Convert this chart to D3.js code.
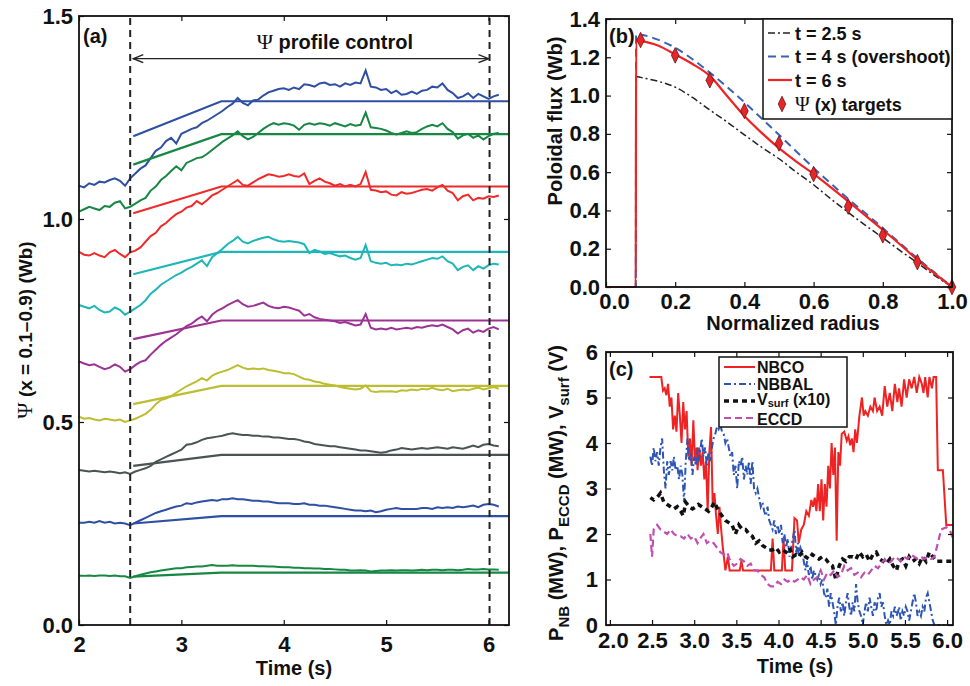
<!DOCTYPE html>
<html>
<head>
<meta charset="utf-8">
<script src="https://cdn.jsdelivr.net/npm/d3@7"></script>
<style>
  body { margin: 0; background: #fff; }
  svg text { font-family: "Liberation Sans", Arial, sans-serif; font-weight: bold; fill: #111; }
  .psi { font-family: "Liberation Serif", "DejaVu Serif", serif; font-weight: normal; }
</style>
</head>
<body>
<div id="vis"></div>
<script>
// ---------- datos panel (a) ----------
const timeA = [2.00,2.05,2.10,2.15,2.20,2.25,2.30,2.35,2.40,2.45,2.50,2.55,2.60,2.65,2.70,2.75,2.80,2.85,2.90,2.95,
  3.00,3.05,3.10,3.15,3.20,3.25,3.30,3.35,3.40,3.45,3.50,3.55,3.60,3.65,3.70,3.75,3.80,3.85,3.90,3.95,
  4.00,4.05,4.10,4.15,4.20,4.25,4.30,4.35,4.40,4.45,4.50,4.55,4.60,4.65,4.70,4.75,4.80,4.85,4.90,4.95,
  5.00,5.05,5.10,5.15,5.20,5.25,5.30,5.35,5.40,5.45,5.50,5.55,5.60,5.65,5.70,5.75,5.80,5.85,5.90,5.95,
  6.00,6.05,6.10];

const psi01 = [1.082,1.078,1.088,1.084,1.092,1.090,1.096,1.100,1.094,1.082,1.100,1.112,1.124,1.132,1.150,1.168,1.176,1.192,1.200,1.186,
  1.210,1.216,1.222,1.226,1.236,1.242,1.250,1.258,1.266,1.276,1.284,1.298,1.286,1.280,1.292,1.294,1.304,1.312,1.316,1.320,
  1.322,1.318,1.324,1.320,1.332,1.330,1.326,1.334,1.336,1.330,1.332,1.326,1.334,1.330,1.336,1.334,1.366,1.326,1.324,1.318,
  1.320,1.310,1.316,1.306,1.308,1.314,1.308,1.316,1.318,1.326,1.324,1.334,1.318,1.310,1.298,1.302,1.310,1.298,1.308,1.302,
  1.296,1.302,1.306];
const psi02 = [1.018,1.024,1.030,1.026,1.022,1.032,1.030,1.040,1.044,1.026,1.030,1.038,1.046,1.052,1.070,1.080,1.096,1.106,1.118,1.130,
  1.120,1.138,1.144,1.150,1.152,1.160,1.170,1.180,1.190,1.198,1.206,1.216,1.204,1.196,1.202,1.212,1.222,1.230,1.236,1.232,
  1.236,1.234,1.230,1.220,1.232,1.236,1.232,1.236,1.234,1.230,1.236,1.232,1.228,1.234,1.230,1.232,1.262,1.226,1.224,1.222,
  1.218,1.212,1.208,1.212,1.216,1.212,1.214,1.222,1.228,1.232,1.228,1.236,1.222,1.214,1.198,1.206,1.210,1.200,1.206,1.196,
  1.204,1.210,1.212];
const psi03 = [0.919,0.912,0.910,0.916,0.910,0.906,0.918,0.924,0.914,0.906,0.918,0.922,0.930,0.944,0.958,0.966,0.982,0.990,1.002,1.012,
  1.018,1.028,1.032,1.044,1.036,1.046,1.058,1.064,1.072,1.080,1.088,1.096,1.084,1.082,1.090,1.098,1.104,1.110,1.108,1.104,
  1.106,1.110,1.106,1.104,1.112,1.086,1.094,1.100,1.092,1.088,1.082,1.086,1.080,1.084,1.080,1.086,1.116,1.072,1.070,1.066,
  1.068,1.060,1.058,1.066,1.062,1.064,1.068,1.072,1.074,1.070,1.078,1.084,1.070,1.064,1.046,1.056,1.060,1.046,1.052,1.050,
  1.056,1.054,1.058];
const psi04 = [0.788,0.784,0.780,0.786,0.776,0.770,0.772,0.782,0.776,0.764,0.772,0.780,0.788,0.800,0.816,0.826,0.838,0.846,0.854,0.862,
  0.868,0.876,0.882,0.890,0.898,0.884,0.906,0.916,0.926,0.938,0.946,0.956,0.944,0.940,0.946,0.950,0.954,0.956,0.950,0.946,
  0.944,0.946,0.944,0.942,0.938,0.916,0.924,0.920,0.914,0.916,0.912,0.908,0.910,0.904,0.900,0.904,0.936,0.896,0.892,0.890,
  0.892,0.886,0.888,0.886,0.890,0.888,0.892,0.896,0.900,0.904,0.902,0.908,0.896,0.890,0.874,0.882,0.886,0.874,0.884,0.878,
  0.886,0.890,0.888];
const psi05 = [0.649,0.644,0.640,0.642,0.636,0.630,0.634,0.642,0.636,0.624,0.630,0.640,0.648,0.652,0.666,0.678,0.690,0.700,0.708,0.716,
  0.726,0.736,0.742,0.752,0.760,0.748,0.764,0.774,0.780,0.788,0.794,0.800,0.790,0.784,0.786,0.790,0.794,0.786,0.782,0.780,
  0.784,0.782,0.778,0.774,0.762,0.766,0.758,0.754,0.752,0.750,0.748,0.744,0.746,0.742,0.738,0.740,0.766,0.732,0.728,0.730,
  0.728,0.732,0.728,0.730,0.732,0.730,0.734,0.732,0.736,0.738,0.736,0.740,0.734,0.728,0.718,0.726,0.730,0.720,0.726,0.722,
  0.730,0.734,0.728];
const psi06 = [0.513,0.508,0.510,0.506,0.504,0.508,0.506,0.504,0.506,0.500,0.504,0.508,0.514,0.520,0.530,0.544,0.554,0.558,0.564,0.572,
  0.580,0.588,0.594,0.600,0.608,0.602,0.614,0.620,0.624,0.628,0.634,0.640,0.634,0.630,0.632,0.630,0.632,0.628,0.626,0.624,
  0.620,0.620,0.618,0.612,0.606,0.604,0.600,0.598,0.594,0.592,0.590,0.586,0.584,0.582,0.580,0.582,0.590,0.576,0.574,0.576,
  0.575,0.576,0.574,0.578,0.577,0.580,0.578,0.582,0.580,0.584,0.580,0.578,0.582,0.576,0.578,0.580,0.578,0.582,0.585,0.580,
  0.583,0.586,0.582];
const psi07 = [0.382,0.380,0.378,0.380,0.378,0.376,0.378,0.376,0.374,0.376,0.372,0.378,0.382,0.386,0.392,0.402,0.408,0.414,0.420,0.426,
  0.432,0.444,0.446,0.450,0.456,0.460,0.462,0.464,0.466,0.470,0.472,0.470,0.468,0.468,0.466,0.466,0.464,0.464,0.462,0.462,
  0.460,0.458,0.458,0.456,0.452,0.450,0.446,0.444,0.442,0.440,0.440,0.438,0.436,0.434,0.432,0.430,0.430,0.428,0.426,0.424,
  0.426,0.430,0.432,0.436,0.434,0.432,0.434,0.436,0.434,0.436,0.438,0.436,0.434,0.438,0.436,0.434,0.438,0.442,0.438,0.444,
  0.446,0.442,0.440];
const psi08 = [0.252,0.252,0.254,0.252,0.256,0.252,0.254,0.250,0.252,0.250,0.246,0.252,0.258,0.264,0.270,0.276,0.280,0.284,0.288,0.292,
  0.294,0.300,0.298,0.302,0.304,0.306,0.308,0.306,0.310,0.310,0.312,0.310,0.310,0.308,0.306,0.306,0.304,0.304,0.302,0.300,
  0.300,0.300,0.298,0.298,0.300,0.296,0.296,0.294,0.294,0.292,0.290,0.288,0.286,0.284,0.282,0.282,0.280,0.282,0.278,0.280,
  0.284,0.286,0.288,0.286,0.286,0.286,0.286,0.288,0.288,0.286,0.290,0.288,0.290,0.288,0.292,0.290,0.292,0.294,0.290,0.296,
  0.298,0.296,0.292];
const psi09 = [0.121,0.121,0.122,0.121,0.122,0.122,0.121,0.122,0.120,0.120,0.116,0.120,0.124,0.127,0.130,0.132,0.134,0.136,0.138,0.140,
  0.140,0.142,0.143,0.144,0.144,0.146,0.148,0.146,0.146,0.146,0.147,0.146,0.146,0.146,0.146,0.145,0.145,0.144,0.144,0.143,
  0.142,0.142,0.141,0.141,0.140,0.140,0.139,0.139,0.138,0.138,0.137,0.136,0.136,0.134,0.134,0.135,0.134,0.132,0.133,0.134,
  0.134,0.135,0.134,0.135,0.135,0.134,0.135,0.136,0.135,0.136,0.136,0.135,0.136,0.136,0.135,0.136,0.138,0.137,0.137,0.138,
  0.137,0.137,0.136];
const psiTraces = [psi01, psi02, psi03, psi04, psi05, psi06, psi07, psi08, psi09];

// objetivos: rampa y meseta
const targetTimes = [2.53, 3.39, 6.2];
const targetStart = [1.204, 1.134, 1.014, 0.864, 0.704, 0.544, 0.392, 0.250, 0.119];
const targetFlat = [1.290, 1.209, 1.080, 0.919, 0.750, 0.589, 0.419, 0.268, 0.129];
const traceColors = ["#2e4fa3", "#178744", "#ee2b2b", "#1fb6b8", "#9d3295", "#bdbd32", "#4a5452", "#2e4fa3", "#178744"];

// ---------- datos panel (b) ----------
const radius = [0, 0.086, 0.087, 0.1, 0.15, 0.2, 0.25, 0.3, 0.35, 0.4, 0.45, 0.5, 0.55, 0.6, 0.65, 0.7, 0.75, 0.8, 0.85, 0.9, 0.95, 1.0];
const flux25 = [0, 0, 1.100, 1.095, 1.075, 1.044, 0.990, 0.925, 0.862, 0.795, 0.730, 0.670, 0.600, 0.534, 0.460, 0.390, 0.322, 0.257, 0.190, 0.126, 0.060, 0];
const flux4 = [0, 0, 1.320, 1.318, 1.292, 1.250, 1.190, 1.120, 1.045, 0.965, 0.880, 0.795, 0.708, 0.622, 0.540, 0.460, 0.385, 0.308, 0.228, 0.150, 0.075, 0];
const flux6 = [0, 0, 1.290, 1.286, 1.262, 1.215, 1.165, 1.103, 0.998, 0.893, 0.805, 0.725, 0.655, 0.591, 0.520, 0.447, 0.373, 0.299, 0.222, 0.142, 0.070, 0];
const targetRadius = [0.1, 0.2, 0.3, 0.4, 0.5, 0.6, 0.7, 0.8, 0.9, 1.0];
const targetFlux = [1.29, 1.21, 1.08, 0.92, 0.75, 0.59, 0.42, 0.27, 0.13, 0.0];

// ---------- datos panel (c) ----------
const nbcoT = [2.47,2.61,2.63,2.65,2.67,2.69,2.71,2.73,2.75,2.77,2.79,2.81,2.83,2.85,2.87,2.89,2.91,2.93,2.95,2.97,
  2.99,3.01,3.03,3.04,3.06,3.08,3.10,3.12,3.14,3.16,3.18,3.20,3.22,3.24,3.26,3.28,3.30,3.32,3.34,3.37,
  3.40,3.42,3.54,3.56,3.58,3.91,3.93,3.95,4.04,4.06,4.08,4.16,4.19,4.22,4.24,4.27,4.30,4.33,4.36,4.39,
  4.41,4.43,4.45,4.47,4.49,4.51,4.53,4.55,4.57,4.59,4.61,4.63,4.65,4.67,4.69,4.71,4.73,4.75,4.78,4.81,
  4.83,4.85,4.87,4.89,4.91,4.93,4.96,4.99,5.01,5.03,5.06,5.09,5.12,5.14,5.17,5.20,5.23,5.26,5.29,5.32,
  5.35,5.38,5.41,5.43,5.46,5.49,5.52,5.55,5.58,5.61,5.64,5.67,5.70,5.72,5.74,5.77,5.79,5.82,5.84,5.87,
  5.89,5.95,5.99,6.07];
const nbcoV = [5.45,5.45,5.15,5.20,5.05,5.30,4.80,5.00,4.30,4.60,4.25,5.10,4.60,4.00,4.90,4.30,4.70,3.70,4.10,3.50,
  4.50,3.60,3.90,3.40,3.90,3.50,3.80,3.20,3.60,2.50,3.80,4.35,2.60,2.90,2.40,2.00,2.60,2.10,1.70,1.20,
  1.50,1.20,1.20,1.40,1.20,1.20,1.90,1.20,1.20,1.90,1.20,1.20,2.35,2.30,1.80,2.10,2.20,2.50,2.40,2.75,
  2.60,2.80,2.50,3.10,2.50,3.20,2.30,3.10,2.60,3.50,3.00,4.00,3.30,3.90,1.85,3.80,3.50,4.20,4.25,4.05,
  4.15,3.95,4.10,3.80,4.30,4.00,4.60,5.00,4.60,4.70,4.60,4.80,4.70,5.00,4.70,4.80,4.60,5.25,4.80,5.10,
  4.70,5.30,4.90,5.20,4.80,5.40,5.00,5.40,5.20,5.45,5.10,5.45,5.30,5.10,5.45,5.00,5.45,5.20,5.45,5.45,
  3.40,3.40,2.20,2.20];

const nbbalT = [2.48,2.50,2.52,2.54,2.56,2.58,2.60,2.62,2.64,2.66,2.68,2.70,2.72,2.74,2.76,2.78,2.80,2.82,2.84,2.86,
  2.88,2.90,2.92,2.94,2.96,2.98,3.00,3.02,3.04,3.05,3.07,3.09,3.11,3.13,3.15,3.17,3.19,3.21,3.23,3.25,
  3.27,3.29,3.31,3.33,3.35,3.37,3.39,3.41,3.43,3.45,3.47,3.49,3.51,3.53,3.55,3.57,3.59,3.61,3.63,3.65,
  3.67,3.69,3.71,3.73,3.75,3.77,3.79,3.81,3.83,3.85,3.87,3.89,3.91,3.93,3.95,3.97,3.99,4.01,4.03,4.05,
  4.07,4.09,4.11,4.13,4.15,4.17,4.19,4.21,4.23,4.24,4.26,4.28,4.30,4.32,4.34,4.36,4.38,4.40,4.42,4.44,
  4.46,4.48,4.50,4.52,4.54,4.56,4.58,4.60,4.62,4.64,4.66,4.68,4.70,4.72,4.74,4.76,4.78,4.80,4.82,4.84,
  4.86,4.88,4.90,4.92,4.94,4.96,4.98,5.00,5.02,5.04,5.06,5.08,5.10,5.12,5.14,5.16,5.18,5.20,5.22,5.24,
  5.26,5.28,5.30,5.32,5.34,5.36,5.38,5.40,5.42,5.43,5.45,5.47,5.49,5.51,5.53,5.55,5.57,5.59,5.61,5.63,
  5.65,5.67,5.69,5.71,5.73,5.75,5.77,5.79,5.81,5.83,5.85,5.87,5.97];
const nbbalV = [3.7,3.5,3.9,3.6,3.8,3.5,3.9,4.1,3.4,3.0,3.6,3.3,3.6,3.4,3.7,3.4,3.5,3.2,3.5,3.3,
  2.7,3.6,4.1,3.6,3.8,3.3,3.7,3.5,3.9,3.6,3.8,4.1,3.7,3.9,3.5,3.8,3.6,3.9,4.1,4.2,
  4.35,4.3,4.4,4.25,4.2,4.0,4.1,3.9,3.7,3.8,3.3,3.5,3.0,3.6,3.5,3.7,3.2,3.5,3.3,3.6,
  3.1,3.6,3.0,2.9,3.0,2.8,2.6,2.7,2.5,2.4,2.6,2.3,2.2,2.1,2.3,2.0,2.2,2.0,2.2,1.8,
  2.0,1.7,1.9,1.5,1.7,1.9,2.1,1.6,1.8,1.5,1.7,1.6,1.4,1.2,1.4,1.1,1.3,1.0,1.2,1.1,
  1.0,1.1,0.9,1.0,0.7,0.6,0.8,0.4,0.7,0.5,0.3,0.0,0.4,0.6,0.3,0.5,0.2,0.5,0.7,0.4,
  0.2,0.5,0.3,0.9,0.5,0.3,0.2,0.0,0.3,0.5,0.3,0.6,0.4,0.2,0.5,0.3,0.6,0.7,0.4,0.5,
  0.2,0.0,0.1,0.0,0.3,0.2,0.4,0.2,0.3,0.4,0.1,0.3,0.2,0.4,0.3,0.1,0.3,0.5,0.7,0.5,
  0.2,0.3,0.2,0.4,0.3,0.6,0.7,0.5,0.3,0.1,0.0,0.0,0.0];

const vsurfT = [2.48,2.52,2.56,2.60,2.64,2.68,2.72,2.76,2.80,2.84,2.87,2.90,2.94,2.98,3.02,3.05,3.09,3.13,3.17,3.21,
  3.24,3.29,3.33,3.37,3.41,3.45,3.49,3.53,3.57,3.61,3.65,3.69,3.73,3.77,3.81,3.85,3.89,3.93,3.97,4.01,
  4.05,4.09,4.13,4.17,4.21,4.24,4.28,4.32,4.36,4.40,4.44,4.48,4.52,4.56,4.60,4.64,4.68,4.72,4.76,4.80,
  4.84,4.88,4.92,4.96,5.00,5.04,5.08,5.12,5.16,5.20,5.24,5.28,5.32,5.36,5.40,5.43,5.47,5.51,5.55,5.59,
  5.63,5.67,5.71,5.75,5.79,5.83,5.87,5.93,6.07];
const vsurfV = [2.80,2.75,2.80,2.90,2.70,2.65,2.60,2.55,2.60,2.50,2.40,2.70,2.60,2.55,2.60,2.65,2.60,2.55,2.50,2.60,
  2.70,2.50,2.40,2.30,2.25,2.20,2.00,2.20,2.10,2.10,2.00,1.95,1.80,1.85,1.75,1.70,1.65,1.65,1.70,1.60,
  1.65,1.60,1.70,1.50,1.55,1.50,1.60,1.50,1.45,1.55,1.50,1.45,1.50,1.45,1.35,1.30,1.00,1.30,1.45,1.40,
  1.50,1.50,1.45,1.60,1.50,1.55,1.40,1.55,1.60,1.45,1.40,1.35,1.45,1.30,1.20,1.40,1.45,1.30,1.50,1.40,
  1.45,1.35,1.50,1.40,1.60,1.50,1.40,1.40,1.40];

const ecT = [2.48,2.50,2.52,2.56,2.60,2.64,2.68,2.72,2.76,2.80,2.84,2.88,2.92,2.96,3.00,3.04,3.07,3.11,3.15,3.19,
  3.23,3.27,3.31,3.35,3.39,3.43,3.47,3.51,3.55,3.59,3.63,3.67,3.71,3.75,3.79,3.83,3.87,3.91,3.95,3.99,
  4.03,4.07,4.11,4.15,4.19,4.23,4.26,4.30,4.34,4.38,4.42,4.46,4.50,4.54,4.58,4.62,4.66,4.70,4.74,4.78,
  4.82,4.86,4.90,4.94,4.98,5.02,5.06,5.10,5.14,5.18,5.22,5.26,5.30,5.34,5.38,5.42,5.45,5.49,5.53,5.57,
  5.61,5.65,5.69,5.73,5.77,5.81,5.85,5.89,5.93,5.99,6.03,6.07];
const ecV = [2.00,1.50,2.10,2.20,2.10,2.05,2.00,2.10,2.00,1.95,1.95,1.90,2.00,1.90,1.95,1.80,1.90,2.00,1.80,1.85,
  1.80,1.70,1.60,1.55,1.60,1.40,1.30,1.35,1.45,1.40,1.30,1.35,1.20,1.20,1.10,1.05,0.90,0.85,0.85,0.95,
  0.90,1.00,0.95,1.00,0.95,1.00,1.05,1.00,1.10,0.90,1.00,1.05,1.20,1.00,1.15,1.10,1.20,1.05,1.10,1.30,
  1.20,1.25,1.10,1.15,1.05,1.15,1.10,1.20,1.30,1.25,1.35,1.45,1.35,1.40,1.50,1.45,1.40,1.50,1.45,1.55,
  1.50,1.45,1.50,1.45,1.50,1.45,1.50,1.80,2.10,2.15,2.10,1.90];

// ---------- SVG ----------
const WIDTH = 970, HEIGHT = 686;
const SVG = d3.select("#vis").append("svg").attr("width", WIDTH).attr("height", HEIGHT);

// Caja con ticks hacia adentro en los cuatro lados
function frame(x, y, xTicks, yTicks, xFmt, yFmt, xPad, yPad) {
  const [x0, x1] = x.range();
  const [y0, y1] = y.range();
  const g = SVG.append("g");
  const fix = sel => {
    sel.select(".domain").remove();
    sel.selectAll("line").attr("stroke", "#111").attr("stroke-width", 1.2);
    sel.selectAll("text").attr("font-size", 22);
  };
  const bx = g.append("g").attr("transform", `translate(0,${y0})`)
    .call(d3.axisBottom(x).tickValues(xTicks).tickFormat(xFmt).tickSize(-5).tickPadding(xPad)).call(fix);
  g.append("g").attr("transform", `translate(0,${y1})`)
    .call(d3.axisTop(x).tickValues(xTicks).tickFormat("").tickSize(-5)).call(fix);
  g.append("g").attr("transform", `translate(${x0},0)`)
    .call(d3.axisLeft(y).tickValues(yTicks).tickFormat(yFmt).tickSize(-5).tickPadding(yPad)).call(fix);
  g.append("g").attr("transform", `translate(${x1},0)`)
    .call(d3.axisRight(y).tickValues(yTicks).tickFormat("").tickSize(-5)).call(fix);
  g.append("rect").attr("x", x0).attr("y", y1).attr("width", x1 - x0).attr("height", y0 - y1)
    .attr("fill", "none").attr("stroke", "#111").attr("stroke-width", 1.8);
  return bx;
}

// ===== Panel (a) =====
const xA = d3.scaleLinear().domain([2, 6.2]).range([79, 509]);
const yA = d3.scaleLinear().domain([0, 1.5]).range([625, 16]);

const lineA = d3.line().x(d => xA(d[0])).y(d => yA(d[1]));
const gA = SVG.append("g");

psiTraces.forEach((vals, k) => {
  gA.append("path")
    .datum(timeA.map((t, i) => [t, vals[i]]))
    .attr("d", lineA).attr("fill", "none")
    .attr("stroke", traceColors[k]).attr("stroke-width", 2);
  const tgt = [[targetTimes[0], targetStart[k]], [targetTimes[1], targetFlat[k]], [targetTimes[2], targetFlat[k]]];
  gA.append("path").datum(tgt).attr("d", lineA).attr("fill", "none")
    .attr("stroke", traceColors[k]).attr("stroke-width", 2.2);
});

// líneas verticales de control
[2.5, 6.01].forEach(t => {
  gA.append("line").attr("x1", xA(t)).attr("x2", xA(t)).attr("y1", yA(0)).attr("y2", yA(1.5))
    .attr("stroke", "#222").attr("stroke-width", 2).attr("stroke-dasharray", "7,5");
});

// flecha
const arrowY = yA(1.395);
gA.append("line").attr("x1", xA(2.53)).attr("x2", xA(6.0)).attr("y1", arrowY).attr("y2", arrowY)
  .attr("stroke", "#222").attr("stroke-width", 1.2);
gA.append("path").attr("d", `M${xA(2.53) + 10},${arrowY - 4} L${xA(2.53)},${arrowY} L${xA(2.53) + 10},${arrowY + 4}`)
  .attr("fill", "none").attr("stroke", "#222").attr("stroke-width", 1.4);
gA.append("path").attr("d", `M${xA(6.0) - 10},${arrowY - 4} L${xA(6.0)},${arrowY} L${xA(6.0) - 10},${arrowY + 4}`)
  .attr("fill", "none").attr("stroke", "#222").attr("stroke-width", 1.4);
const lbl = gA.append("text").attr("x", xA(4.5)).attr("y", yA(1.418)).attr("text-anchor", "middle").attr("font-size", 20);
lbl.append("tspan").attr("class", "psi").attr("font-size", 22).text("Ψ ");
lbl.append("tspan").text("profile control");

frame(xA, yA, [2, 3, 4, 5, 6], [0, 0.5, 1.0, 1.5], d3.format("d"), d3.format(".1f"), 11, 6);
SVG.append("text").attr("x", 83).attr("y", 43).attr("font-size", 20).text("(a)");
SVG.append("text").attr("x", xA(4.1)).attr("y", 675).attr("text-anchor", "middle").attr("font-size", 20).text("Time (s)");
const ylA = SVG.append("text").attr("transform", "translate(32,330) rotate(-90)").attr("text-anchor", "middle").attr("font-size", 19);
ylA.append("tspan").attr("class", "psi").attr("font-size", 22).text("Ψ");
ylA.append("tspan").text("  (x = 0.1–0.9)  (Wb)");

// ===== Panel (b) =====
const xB = d3.scaleLinear().domain([0, 1]).range([606, 952]);
const yB = d3.scaleLinear().domain([0, 1.4]).range([287, 19]);
const lineB = d3.line().x(d => xB(d[0])).y(d => yB(d[1])).curve(d3.curveMonotoneX);
const gB = SVG.append("g");
gB.append("path").datum(radius.map((r, i) => [r, flux25[i]])).attr("d", lineB).attr("fill", "none")
  .attr("stroke", "#222").attr("stroke-width", 1.5).attr("stroke-dasharray", "7,3,2,3");
gB.append("path").datum(radius.map((r, i) => [r, flux4[i]])).attr("d", lineB).attr("fill", "none")
  .attr("stroke", "#3a62b4").attr("stroke-width", 2).attr("stroke-dasharray", "8,5");
gB.append("path").datum(radius.map((r, i) => [r, flux6[i]])).attr("d", lineB).attr("fill", "none")
  .attr("stroke", "#ee2424").attr("stroke-width", 2.2);
const diamond = d3.symbol().type(d3.symbolDiamond).size(70);
gB.selectAll(".dia").data(targetRadius.map((r, i) => [r, targetFlux[i]])).join("path")
  .attr("transform", d => `translate(${xB(d[0])},${yB(d[1])}) scale(0.85,1)`)
  .attr("d", diamond).attr("fill", "#e8262a").attr("stroke", "#5a1010").attr("stroke-width", 0.8);

const axB = frame(xB, yB, [0, 0.2, 0.4, 0.6, 0.8, 1.0], [0, 0.2, 0.4, 0.6, 0.8, 1.0, 1.2, 1.4], d3.format(".1f"), d3.format(".1f"), 6, 6);
axB.selectAll("text").filter(d => d === 0).attr("dx", 8);
SVG.append("text").attr("x", 609).attr("y", 43).attr("font-size", 20).text("(b)");
SVG.append("text").attr("x", 793).attr("y", 330).attr("text-anchor", "middle").attr("font-size", 20).text("Normalized radius");
SVG.append("text").attr("transform", "translate(562,121) rotate(-90)").attr("text-anchor", "middle").attr("font-size", 20).text("Poloidal flux (Wb)");

// leyenda (b)
const legB = SVG.append("g");
legB.append("rect").attr("x", 763).attr("y", 19).attr("width", 189).attr("height", 100)
  .attr("fill", "#fff").attr("stroke", "#111").attr("stroke-width", 1.5);
const legBItems = [
  { label: "t = 2.5 s", stroke: "#222", dash: "7,3,2,3", w: 1.5 },
  { label: "t = 4 s (overshoot)", stroke: "#3a62b4", dash: "8,5", w: 2 },
  { label: "t = 6 s", stroke: "#ee2424", dash: null, w: 2.2 }
];
legBItems.forEach((d, i) => {
  const yy = 33 + i * 23.5;
  legB.append("line").attr("x1", 768).attr("x2", 792).attr("y1", yy).attr("y2", yy)
    .attr("stroke", d.stroke).attr("stroke-width", d.w).attr("stroke-dasharray", d.dash);
  legB.append("text").attr("x", 795).attr("y", yy + 6.5).attr("font-size", 18).text(d.label);
});
legB.append("path").attr("d", diamond).attr("transform", "translate(782,104) scale(0.85,1)")
  .attr("fill", "#e8262a").attr("stroke", "#5a1010").attr("stroke-width", 0.8);
const lt = legB.append("text").attr("x", 795).attr("y", 110.5).attr("font-size", 18);
lt.append("tspan").attr("class", "psi").attr("font-size", 20).text("Ψ");
lt.append("tspan").text(" (x) targets");

// ===== Panel (c) =====
const xC = d3.scaleLinear().domain([1.954, 6.07]).range([606, 953]);
const yC = d3.scaleLinear().domain([0, 6]).range([625, 352]);
const lineC = d3.line().x(d => xC(d[0])).y(d => yC(d[1]));
const gC = SVG.append("g");
const zipC = (ts, vs) => ts.map((t, i) => [t, vs[i]]);
gC.append("path").datum(zipC(nbcoT, nbcoV)).attr("d", lineC).attr("fill", "none")
  .attr("stroke", "#ee2424").attr("stroke-width", 2);
gC.append("path").datum(zipC(nbbalT, nbbalV)).attr("d", lineC).attr("fill", "none")
  .attr("stroke", "#2d55b5").attr("stroke-width", 2).attr("stroke-dasharray", "7,3,2,3");
gC.append("path").datum(zipC(vsurfT, vsurfV)).attr("d", lineC).attr("fill", "none")
  .attr("stroke", "#111").attr("stroke-width", 3.5).attr("stroke-dasharray", "5,4");
gC.append("path").datum(zipC(ecT, ecV)).attr("d", lineC).attr("fill", "none")
  .attr("stroke", "#c04fb2").attr("stroke-width", 2.2).attr("stroke-dasharray", "7,4");

const axC = frame(xC, yC, [2, 2.5, 3, 3.5, 4, 4.5, 5, 5.5, 6], [0, 1, 2, 3, 4, 5, 6], d3.format(".1f"), d3.format("d"), 7, 8);
axC.selectAll("text").filter(d => d === 2).attr("dx", 3);
SVG.append("text").attr("x", 609).attr("y", 376).attr("font-size", 20).text("(c)");
SVG.append("text").attr("x", 795).attr("y", 673).attr("text-anchor", "middle").attr("font-size", 20).text("Time (s)");
const ylC = SVG.append("text").attr("transform", "translate(563,493) rotate(-90)").attr("text-anchor", "middle").attr("font-size", 20);
[["P", 0], ["NB", 1], [" (MW), P", 0], ["ECCD", 1], [" (MW), V", 0], ["surf", 1], [" (V)", 0]].forEach(([s, sub], i, arr) => {
  const prevSub = i > 0 ? arr[i - 1][1] : 0;
  ylC.append("tspan").attr("dy", sub === prevSub ? 0 : (sub ? 6 : -6))
    .attr("font-size", sub ? 15 : 20).text(s);
});

// leyenda (c)
const legC = SVG.append("g");
legC.append("rect").attr("x", 719).attr("y", 357).attr("width", 128).attr("height", 70)
  .attr("fill", "#fff").attr("stroke", "#111").attr("stroke-width", 1.5);
const legCItems = [
  { stroke: "#ee2424", dash: null, w: 2 },
  { stroke: "#2d55b5", dash: "7,3,2,3", w: 2 },
  { stroke: "#111", dash: "5,4", w: 3.5 },
  { stroke: "#c04fb2", dash: "7,4", w: 2.2 }
];
legCItems.forEach((d, i) => {
  const yy = 367 + i * 17;
  legC.append("line").attr("x1", 724).attr("x2", 755).attr("y1", yy).attr("y2", yy)
    .attr("stroke", d.stroke).attr("stroke-width", d.w).attr("stroke-dasharray", d.dash);
});
legC.append("text").attr("x", 757).attr("y", 372.5).attr("font-size", 16).text("NBCO");
legC.append("text").attr("x", 757).attr("y", 389.5).attr("font-size", 16).text("NBBAL");
const vs = legC.append("text").attr("x", 757).attr("y", 405).attr("font-size", 16);
vs.append("tspan").text("V");
vs.append("tspan").attr("dy", 1.5).attr("font-size", 11).text("surf");
vs.append("tspan").attr("dy", -1.5).text(" (x10)");
legC.append("text").attr("x", 757).attr("y", 424.5).attr("font-size", 16).text("ECCD");
</script>
</body>
</html>
